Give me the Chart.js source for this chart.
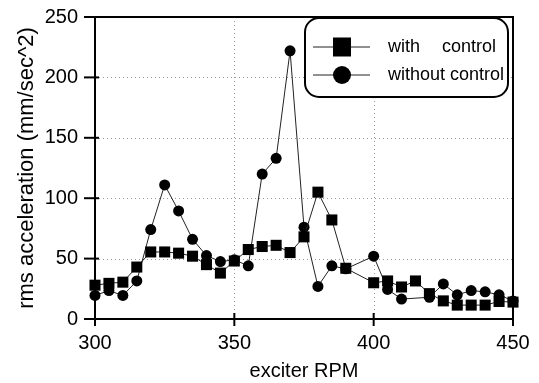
<!DOCTYPE html>
<html>
<head>
<meta charset="utf-8">
<script src="https://cdn.jsdelivr.net/npm/chart.js@4.4.0/dist/chart.umd.min.js"></script>
<style>
  html, body { margin: 0; padding: 0; background: #fff; }
</style>
</head>
<body>
<canvas id="rms" width="539" height="383"></canvas>
<script>
// exciter RPM readings (no 395 point in either run, no 415 point without control)
const rpmWith = [300, 305, 310, 315, 320, 325, 330, 335, 340, 345, 350, 355, 360, 365, 370, 375, 380, 385, 390,
                 400, 405, 410, 415, 420, 425, 430, 435, 440, 445, 450];
const accelWith = [28, 29.5, 30.5, 43, 55.5, 55.5, 54.5, 52, 45, 38, 48, 57.5, 60, 61, 55, 68, 105, 82, 42,
                   30, 31.5, 26.5, 31.5, 21, 15, 11.5, 11.5, 11.5, 14.5, 14];

const rpmWithout = [300, 305, 310, 315, 320, 325, 330, 335, 340, 345, 350, 355, 360, 365, 370, 375, 380, 385, 390,
                    400, 405, 410, 420, 425, 430, 435, 440, 445, 450];
const accelWithout = [19.5, 23.5, 19.5, 31.5, 74, 111, 89.5, 66, 52.5, 47.5, 49, 44, 120, 133, 222, 76, 27, 44, 41.5,
                      52, 24.5, 16.5, 18, 29, 20, 23.5, 22.5, 20, 15];

const xTicks = [300, 350, 400, 450];
const yTicks = [0, 50, 100, 150, 200, 250];

const FONT = "'Liberation Sans', Arial, Helvetica, sans-serif";
Chart.defaults.font.family = FONT;
Chart.defaults.color = '#000';

const toPoints = (xs, ys) => xs.map((x, i) => ({ x: x, y: ys[i] }));

// frame, dotted grid and ticks that cross the axes
const framePlugin = {
  id: 'frame',
  beforeDatasetsDraw(chart) {
    const { ctx, chartArea: a, scales: { x, y } } = chart;
    ctx.save();
    ctx.strokeStyle = '#9a9a9a';
    ctx.lineWidth = 1;
    ctx.setLineDash([1, 3]);
    xTicks.slice(1, -1).forEach(v => {
      const px = Math.round(x.getPixelForValue(v)) + 0.5;
      ctx.beginPath(); ctx.moveTo(px, a.top); ctx.lineTo(px, a.bottom); ctx.stroke();
    });
    yTicks.slice(1, -1).forEach(v => {
      const py = Math.round(y.getPixelForValue(v)) + 0.5;
      ctx.beginPath(); ctx.moveTo(a.left, py); ctx.lineTo(a.right, py); ctx.stroke();
    });
    ctx.setLineDash([]);
    ctx.strokeStyle = '#000';
    ctx.lineWidth = 2;
    ctx.strokeRect(a.left, a.top, a.right - a.left, a.bottom - a.top);
    xTicks.forEach(v => {
      const px = x.getPixelForValue(v);
      ctx.beginPath(); ctx.moveTo(px, a.bottom - 6); ctx.lineTo(px, a.bottom + 7); ctx.stroke();
    });
    yTicks.forEach(v => {
      const py = y.getPixelForValue(v);
      ctx.beginPath(); ctx.moveTo(a.left - 11, py); ctx.lineTo(a.left + 4, py); ctx.stroke();
    });
    ctx.restore();
  },
  afterDraw(chart) {
    const { ctx } = chart;
    ctx.save();
    ctx.fillStyle = '#fff';
    ctx.strokeStyle = '#000';
    ctx.lineWidth = 2;
    ctx.beginPath();
    ctx.roundRect(305, 18, 203, 79, 14);
    ctx.fill();
    ctx.stroke();

    const rows = [47, 75];
    ctx.lineWidth = 1;
    ctx.strokeStyle = '#222';
    rows.forEach(ry => {
      ctx.beginPath(); ctx.moveTo(313, ry); ctx.lineTo(370, ry); ctx.stroke();
    });
    ctx.fillStyle = '#000';
    ctx.fillRect(342 - 9, rows[0] - 9.5, 18, 19);
    ctx.beginPath(); ctx.arc(342, rows[1], 9, 0, Math.PI * 2); ctx.fill();

    ctx.font = '18px ' + FONT;
    ctx.textBaseline = 'middle';
    ctx.fillText('with', 388, rows[0]);
    ctx.fillText('control', 442, rows[0]);
    ctx.fillText('without control', 388, rows[1]);
    ctx.restore();
  }
};

new Chart(document.getElementById('rms'), {
  type: 'line',
  data: {
    datasets: [{
      label: 'with control',
      data: toPoints(rpmWith, accelWith),
      borderColor: '#222',
      borderWidth: 1,
      pointStyle: 'rect',
      pointRadius: 7.8,
      pointBackgroundColor: '#000',
      pointBorderWidth: 0,
      clip: false
    }, {
      label: 'without control',
      data: toPoints(rpmWithout, accelWithout),
      borderColor: '#222',
      borderWidth: 1,
      pointStyle: 'circle',
      pointRadius: 5.5,
      pointBackgroundColor: '#000',
      pointBorderWidth: 0,
      clip: false
    }]
  },
  options: {
    responsive: false,
    animation: false,
    layout: { padding: { top: 17, right: 26, left: 0, bottom: 0 } },
    plugins: { legend: { display: false }, tooltip: { enabled: false } },
    scales: {
      x: {
        type: 'linear',
        min: 300,
        max: 450,
        afterBuildTicks: s => { s.ticks = xTicks.map(v => ({ value: v })); },
        afterFit: s => { s.height = 64; s.paddingLeft = 0; s.paddingRight = 0; },
        grid: { display: false, drawTicks: false },
        border: { display: false },
        ticks: { font: { size: 20 }, padding: 12, maxRotation: 0 },
        title: { display: true, text: 'exciter RPM', font: { size: 20 }, padding: { top: 0, bottom: 0 } }
      },
      y: {
        min: 0,
        max: 250,
        afterBuildTicks: s => { s.ticks = yTicks.map(v => ({ value: v })); },
        afterFit: s => { s.width = 95; s.paddingTop = 0; s.paddingBottom = 0; },
        grid: { display: false, drawTicks: false },
        border: { display: false },
        ticks: { font: { size: 20 }, padding: 17 },
        title: { display: true, text: 'rms acceleration (mm/sec^2)', font: { size: 22 }, padding: { top: 14, bottom: 0 } }
      }
    }
  },
  plugins: [framePlugin]
});
</script>
</body>
</html>
